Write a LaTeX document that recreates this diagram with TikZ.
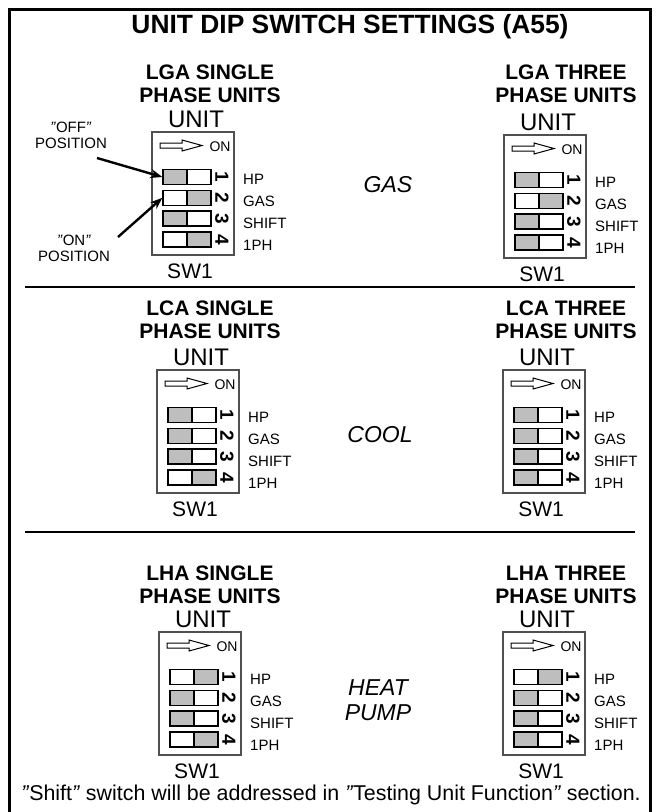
\documentclass[tikz,border=0pt]{standalone}
\usepackage{fontspec}
\setmainfont{Liberation Sans}
\usetikzlibrary{arrows.meta,positioning}
\definecolor{swgray}{RGB}{190,190,190}
\definecolor{boxgray}{RGB}{80,80,80}
\newcommand\swquote{\textit{\char34}}

\begin{document}
\begin{tikzpicture}[x=1pt,y=-1pt,
  ttl/.style={font=\fontsize{26.4}{30}\selectfont\bfseries},
  hdr/.style={font=\fontsize{21}{23}\selectfont\bfseries,align=center,inner sep=0pt},
  unitlbl/.style={font=\fontsize{24}{28}\selectfont,inner sep=0pt},
  swname/.style={font=\fontsize{21}{24}\selectfont,inner sep=0pt},
  onlbl/.style={font=\fontsize{14}{16}\selectfont,inner sep=0pt},
  swlbl/.style={font=\fontsize{15}{17}\selectfont,anchor=west,inner sep=0pt},
  digit/.style={font=\fontsize{19}{20}\selectfont\bfseries,rotate=-90,inner sep=0pt},
  cell/.style={draw,line width=1.3pt,minimum width=48pt,minimum height=15pt,inner sep=0pt},
  swbox/.style={draw=boxgray,line width=1.2pt},
  hollow/.style={draw,line width=1pt,fill=white},
  note/.style={font=\fontsize{15}{16}\selectfont,align=center,inner sep=0pt},
  opmode/.style={font=\fontsize{23}{25}\selectfont\itshape,align=center,inner sep=0pt},
  fnote/.style={font=\fontsize{21.4}{24}\selectfont,inner sep=0pt},
  ptr/.style={-{Stealth[length=12pt,width=9pt]},line width=2.4pt}]
\useasboundingbox (0,0) rectangle (662,812);
\draw[line width=3pt] (9.5,812) -- (9.5,9.5) -- (650.5,9.5) -- (650.5,812);
\node[ttl] (title) at (350,27) {UNIT DIP SWITCH SETTINGS (A55)};
\draw[line width=1.8pt] (25,287) -- (635,287);
\draw[line width=1.8pt] (25,532) -- (635,532);
\foreach \n/\x/\y/\t in {hA/210/84/LGA SINGLE,hB/566/84/LGA THREE,hC/210/320/LCA SINGLE,
    hD/566/320/LCA THREE,hE/210/585/LHA SINGLE,hF/566/585/LHA THREE}
  \node[hdr] (\n) at (\x,\y) {\t\\PHASE UNITS};
\foreach \n/\x/\y/\a/\b/\c/\d in {A/152/132/0/1/0/1,B/504/135/0/1/0/0,C/157/370/0/0/0/1,
    D/503/370/0/0/0/0,E/159/632/1/0/0/1,F/503/632/1/0/0/0} {
  \draw[swbox] (\x,\y) rectangle ++(82,123);
  \node[unitlbl] (\n-unit) at ({\x+44},{\y-13}) {UNIT};
  \node[swname] (\n-sw) at ({\x+38},{\y+139}) {SW1};
  \draw[hollow] ({\x+8},{\y+11}) -- ++(22,0) -- ++(0,-3) -- ({\x+50},{\y+13.5})
    -- ({\x+30},{\y+19}) -- ++(0,-3) -- ({\x+8},{\y+16}) -- cycle;
  \node[onlbl] (\n-on) at ({\x+68},{\y+15}) {ON};
  \foreach \s [count=\i] in {\a,\b,\c,\d} {
    \fill[swgray] ({\x+11+\s*24},{\y+37.5+(\i-1)*20.8}) rectangle ++(24,15);
    \node[cell] (\n-r\i) at ({\x+35},{\y+45+(\i-1)*20.8}) {};
    \draw[line width=1.3pt] (\n-r\i.north) -- (\n-r\i.south);
    \node[digit] (\n-d\i) at ({\x+70},{\y+45+(\i-1)*20.8}) {\i};
  }
  \foreach \t [count=\i] in {HP,GAS,SHIFT,1PH}
    \node[swlbl] (\n-l\i) at ({\x+91},{\y+47+(\i-1)*22}) {\t};
}
\node[note] (off) at (71,135) {\swquote OFF\swquote\\POSITION};
\node[note] (on) at (74,248) {\swquote ON\swquote\\POSITION};
\coordinate (offtail) at (97,158);
\coordinate (ontail) at (118,237);
\draw[ptr] (offtail) -- (A-r1.west);
\draw[ptr] (ontail) -- (A-r2.west);
\node[opmode] (gas) at (388,185) {GAS};
\node[opmode] (cool) at (380,435) {COOL};
\node[opmode] (hp) at (378,700) {HEAT\\PUMP};
\node[fnote] (foot) at (331,795) {\swquote Shift\swquote{} switch will be addressed in \swquote Testing Unit Function\swquote{} section.};
\end{tikzpicture}
\end{document}
